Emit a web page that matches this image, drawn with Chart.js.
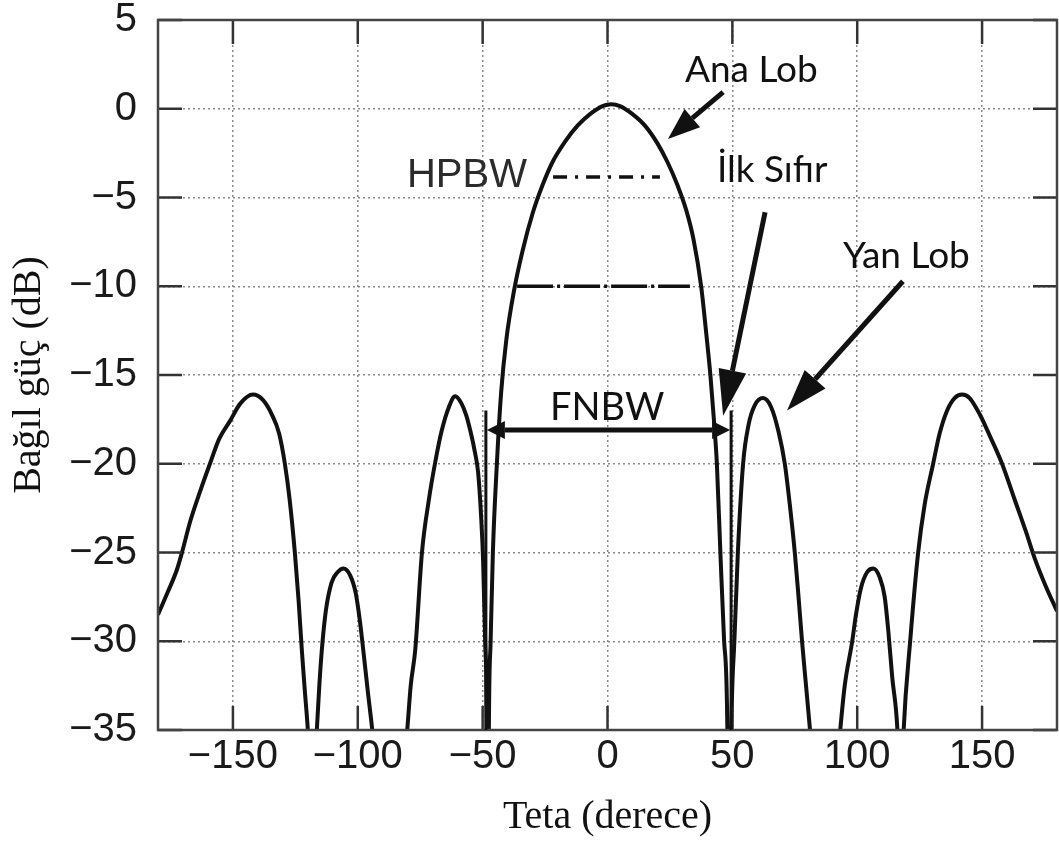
<!DOCTYPE html>
<html>
<head>
<meta charset="utf-8">
<script src="https://cdn.jsdelivr.net/npm/chart.js@4.4.0/dist/chart.umd.min.js"></script>
<style>
  html, body { margin: 0; padding: 0; background: #fff; }
  #wrap { width: 1059px; height: 842px; }
</style>
</head>
<body>
<div id="wrap"><canvas id="patternChart" width="1059" height="842"></canvas></div>
<script>
// radiation pattern (angle in degrees, relative power in dB)
const thetaDeg = [
  -180, -176, -172.5, -170.4, -167, -163, -159.2, -155.5, -151.2, -147, -142, -138, -134.5, -131.5,
  -129.2, -127.3, -125.2, -123.7, -122.4, -121.2, -120, -118.2, -116.4, -115.4, -114.4, -112.8,
  -110.5, -108, -105.8, -103, -100.8, -99.2, -97.8, -96, -94.2, -87.2, -80.2, -78.8, -77, -74.3,
  -71.5, -69.1, -66.5, -63.5, -61, -58.5, -56.5, -55, -53.3, -51.8, -50.6, -49.8, -49, -48.3, -47.9,
  -47.5, -46.8, -45.9, -44.3, -42.6, -40.5, -37.5, -34, -30, -26, -22, -17, -12, -7, -2, 1.5, 5, 10, 15,
  20, 24, 28, 31.5, 34.5, 37.5, 39.5, 41.2, 42.6, 43.8, 45.2, 46.7, 48, 48.6,
  49.6, 50.8, 52.2, 54.3, 56.5, 59, 62.3, 65.5, 68.5, 71, 73, 75, 76.5, 77.9, 79.5, 81.1,
  87.2, 93.2, 95, 98, 99.5, 101.5, 104, 106.5, 109, 111, 112.5, 114, 116.1, 117.4,
  118.6, 121.2, 124.4, 127, 130.4, 133, 136, 139, 142, 145, 149, 153, 158, 163, 167.5, 171, 175.5, 180
];
const powerDb = [
  -28.5, -27.2, -26, -25, -23.2, -21.5, -20, -18.6, -17.6, -16.6, -16.1, -16.4, -17.2, -18.3,
  -20, -22, -25, -27.7, -30.5, -32.8, -35, -40, -35, -32.5, -30.5, -28.3,
  -26.7, -26.1, -25.9, -26.3, -27.3, -28.8, -30.5, -32.8, -35, -45, -35, -32.5, -30.5, -25,
  -22, -20, -18.2, -16.8, -16.2, -16.6, -17.3, -18.1, -19.2, -20.5, -23, -25.5, -30, -35, -50,
  -35, -30, -25, -20, -16, -13, -10.3, -8.0, -5.9, -4.3, -3.0, -1.85, -0.95, -0.3, 0.15, 0.25, 0.15, -0.3, -0.95,
  -1.95, -3.0, -4.3, -5.7, -7.4, -10, -12.6, -15, -17.5, -20, -25, -30, -35, -50,
  -35, -30, -25, -20, -17.8, -16.7, -16.3, -16.8, -18.2, -20, -22.3, -25, -27.5, -30, -32.5, -35,
  -45, -35, -32.5, -30, -28.5, -27, -26.1, -25.9, -26.4, -27.5, -29.5, -32, -35, -40,
  -35, -30, -25, -22.3, -20, -18.3, -17, -16.3, -16.1, -16.3, -17.2, -18.4, -20, -22, -23.8, -25.3, -26.9, -28.3
];

const xTickValues = [-150, -100, -50, 0, 50, 100, 150];
const yTickValues = [5, 0, -5, -10, -15, -20, -25, -30, -35];

const xTitle = 'Teta (derece)';
const yTitle = 'Bağıl güç (dB)';

// annotation texts/arrows, placed in data units (theta, dB)
const noteFont = "Lato, 'Open Sans', sans-serif";
const notes = [
  { text: 'Ana Lob', x: 31.0, y: 1.5, font: '37px ' + noteFont },
  { text: 'İlk Sıfır', x: 43.8, y: -4.13, font: '37px ' + noteFont },
  { text: 'Yan Lob', x: 94.3, y: -8.97, font: '37px ' + noteFont },
  { text: 'HPBW', x: -80.3, y: -4.41, font: "40px 'Liberation Sans', Arial, sans-serif", color: '#2b2b2b' },
  { text: 'FNBW', x: -23.0, y: -17.54, font: '38px ' + noteFont }
];
const arrows = [
  { from: [46.3, 0.94], to: [24.2, -1.7], head: 32, half: 12 },
  { from: [63.1, -5.83], to: [46.3, -17.3], head: 46, half: 14 },
  { from: [118.3, -9.72], to: [71.9, -17.0], head: 42, half: 14 }
];

function arrowHead(ctx, x0, y0, x1, y1, len, half) {
  const ang = Math.atan2(y1 - y0, x1 - x0);
  const bx = x1 - len * Math.cos(ang), by = y1 - len * Math.sin(ang);
  ctx.beginPath();
  ctx.moveTo(x1, y1);
  ctx.lineTo(bx + half * Math.sin(ang), by - half * Math.cos(ang));
  ctx.lineTo(bx - half * Math.sin(ang), by + half * Math.cos(ang));
  ctx.closePath();
  ctx.fill();
  return [bx, by];
}

const frameAndNotes = {
  id: 'frameAndNotes',
  afterDatasetsDraw(chart) {
    const { ctx, chartArea: a, scales: { x, y } } = chart;
    const px = v => x.getPixelForValue(v);
    const py = v => y.getPixelForValue(v);
    ctx.save();

    // inward tick marks on all four sides
    ctx.strokeStyle = '#333';
    ctx.lineWidth = 2.5;
    ctx.beginPath();
    xTickValues.forEach(v => {
      ctx.moveTo(px(v), a.top); ctx.lineTo(px(v), a.top + 24);
      ctx.moveTo(px(v), a.bottom); ctx.lineTo(px(v), a.bottom - 24);
    });
    yTickValues.forEach(v => {
      ctx.moveTo(a.left, py(v)); ctx.lineTo(a.left + 24, py(v));
      ctx.moveTo(a.right, py(v)); ctx.lineTo(a.right - 24, py(v));
    });
    ctx.stroke();

    // frame
    ctx.strokeStyle = '#444';
    ctx.lineWidth = 2.5;
    ctx.strokeRect(a.left, a.top, a.right - a.left, a.bottom - a.top);

    ctx.strokeStyle = '#111';
    ctx.fillStyle = '#111';

    // HPBW and -10 dB dash-dot lines
    ctx.lineWidth = 3.5;
    ctx.setLineDash([14, 8, 3, 8]);
    ctx.beginPath();
    ctx.moveTo(px(-21.8), py(-3.85)); ctx.lineTo(px(21.0), py(-3.85));
    ctx.stroke();
    ctx.setLineDash([36, 4, 3, 4]);
    ctx.beginPath();
    ctx.moveTo(px(-36.2), py(-10)); ctx.lineTo(px(33.0), py(-10));
    ctx.stroke();
    ctx.setLineDash([]);

    // FNBW markers
    ctx.lineWidth = 3;
    ctx.beginPath();
    ctx.moveTo(px(-48.7), py(-17.0)); ctx.lineTo(px(-48.7), py(-35));
    ctx.moveTo(px(49.5), py(-17.0)); ctx.lineTo(px(49.5), py(-35));
    ctx.stroke();
    const fy = py(-18.1), fl = px(-48.3), fr = px(49.1);
    const [lb] = arrowHead(ctx, fr, fy, fl, fy, 18, 9);
    const [rb] = arrowHead(ctx, fl, fy, fr, fy, 18, 9);
    ctx.lineWidth = 5;
    ctx.beginPath();
    ctx.moveTo(lb, fy); ctx.lineTo(rb, fy);
    ctx.stroke();

    // pointer arrows
    arrows.forEach(ar => {
      const x0 = px(ar.from[0]), y0 = py(ar.from[1]);
      const x1 = px(ar.to[0]), y1 = py(ar.to[1]);
      const [bx, by] = arrowHead(ctx, x0, y0, x1, y1, ar.head, ar.half);
      ctx.lineWidth = 5;
      ctx.beginPath();
      ctx.moveTo(x0, y0); ctx.lineTo(bx, by);
      ctx.stroke();
    });

    // labels
    ctx.textAlign = 'left';
    ctx.textBaseline = 'alphabetic';
    notes.forEach(n => {
      ctx.font = n.font;
      ctx.fillStyle = n.color || '#111';
      ctx.fillText(n.text, px(n.x), py(n.y));
    });
    ctx.restore();
  }
};

const gridOpts = { color: '#8a8a8a', lineWidth: 1.5, drawTicks: false };
const tickFont = { family: "'Liberation Sans', Arial, sans-serif", size: 40, lineHeight: 1 };
const titleFont = { family: "'Liberation Serif', 'Times New Roman', serif", size: 40, lineHeight: 1.2 };

new Chart(document.getElementById('patternChart'), {
  type: 'line',
  data: {
    datasets: [{
      data: thetaDeg.map((t, i) => ({ x: t, y: powerDb[i] })),
      borderColor: '#111',
      borderWidth: 4,
      pointRadius: 0,
      fill: false,
      cubicInterpolationMode: 'monotone',
      clip: 0
    }]
  },
  options: {
    responsive: false,
    animation: false,
    devicePixelRatio: 1,
    events: [],
    layout: { padding: { top: 20, right: 2, left: 0, bottom: 0 } },
    plugins: {
      legend: { display: false },
      tooltip: { enabled: false }
    },
    scales: {
      x: {
        type: 'linear',
        min: -180,
        max: 180,
        afterFit(s) { s.height = 112; s.paddingLeft = 0; s.paddingRight = 0; },
        afterBuildTicks(s) { s.ticks = xTickValues.map(v => ({ value: v })); },
        grid: gridOpts,
        border: { display: false, dash: [2, 3] },
        ticks: {
          padding: 7,
          autoSkip: false,
          maxRotation: 0,
          color: '#1a1a1a',
          font: tickFont,
          callback: v => String(v).replace('-', '\u2212')
        },
        title: { display: true, text: xTitle, color: '#111', font: titleFont, padding: { top: 0, bottom: 1 } }
      },
      y: {
        type: 'linear',
        min: -35,
        max: 5,
        afterFit(s) { s.width = 158; s.paddingTop = 0; s.paddingBottom = 0; },
        afterBuildTicks(s) { s.ticks = yTickValues.map(v => ({ value: v })); },
        grid: gridOpts,
        border: { display: false, dash: [2, 3] },
        ticks: {
          padding: 21,
          color: '#1a1a1a',
          font: tickFont,
          callback: v => String(v).replace('-', '\u2212')
        },
        title: { display: true, text: yTitle, color: '#111', font: titleFont, padding: { top: 5, bottom: 0 } }
      }
    }
  },
  plugins: [frameAndNotes]
});
</script>
</body>
</html>
